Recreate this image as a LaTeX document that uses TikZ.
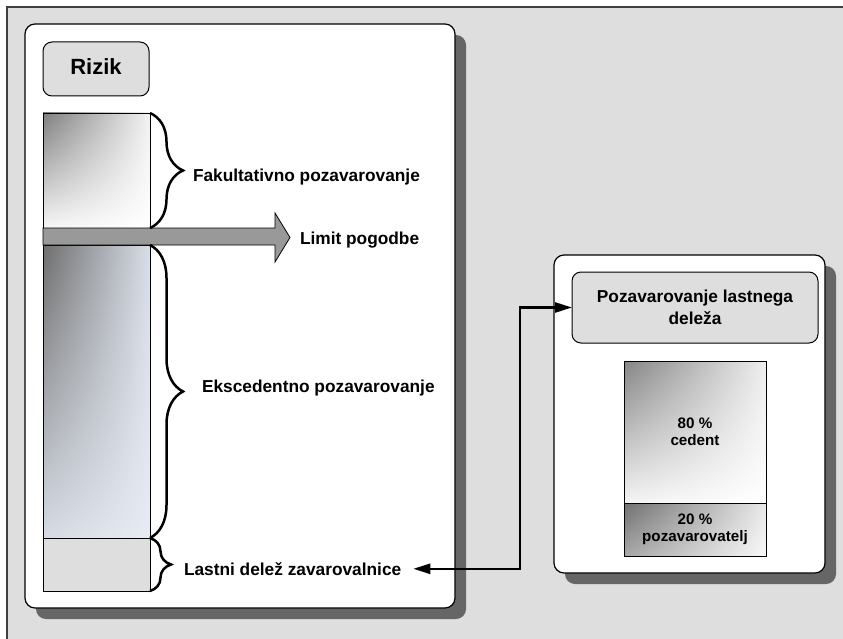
\documentclass[tikz,border=0pt]{standalone}
\usepackage{fontspec}
\setmainfont{Liberation Sans}
\usetikzlibrary{shadows,shadings,decorations.pathreplacing,arrows.meta}
\definecolor{bggray}{HTML}{DEDEDE}
\definecolor{shadowgray}{HTML}{666666}
\definecolor{blockgray}{HTML}{999999}
\definecolor{framegray}{HTML}{404040}
\definecolor{sAul}{HTML}{7F7F7F}
\definecolor{sAur}{HTML}{F2F2F2}
\definecolor{sAll}{HTML}{F6F6F6}
\definecolor{sBul}{HTML}{6E6E6E}
\definecolor{sBur}{HTML}{D8DEE8}
\definecolor{sBll}{HTML}{D6DBE4}
\definecolor{sBlr}{HTML}{E6EBF4}
\definecolor{sCul}{HTML}{858585}
\definecolor{sCur}{HTML}{EEEEEE}
\definecolor{sCll}{HTML}{F4F4F4}
\definecolor{sDul}{HTML}{707070}
\definecolor{sDur}{HTML}{E8E8E8}
\definecolor{sDll}{HTML}{A8A8A8}
\definecolor{sDlr}{HTML}{F8F8F8}
\newcommand{\lblfont}{\fontsize{17.3}{22}\selectfont\bfseries}
\newcommand{\smallfont}{\fontsize{15.2}{17.5}\selectfont\bfseries}
\newcommand{\bigfont}{\fontsize{22}{26}\selectfont\bfseries}
\begin{document}
\begin{tikzpicture}[x=1pt,y=-1pt,
 panel/.style={draw=black, line width=1.2pt, fill=white, rounded corners=10pt, inner sep=0pt, outer sep=0pt, anchor=north west,
   drop shadow={shadow xshift=11pt, shadow yshift=-11pt, fill=shadowgray, opacity=1}},
 titlebox/.style={draw=black, line width=1pt, fill=bggray, rounded corners=9pt, inner sep=0pt, outer sep=0pt, anchor=north west},
 segbox/.style={draw=black, line width=0.8pt, inner sep=0pt, outer sep=0pt, anchor=north west},
 lbl/.style={inner sep=0pt, outer sep=0pt, anchor=west, text height=12.4pt, text depth=0pt, font=\lblfont},
 bracestyle/.style={decorate, line width=2.5pt},
 conn/.style={line width=2.5pt, {Triangle[length=17pt,width=10pt]}-{Triangle[length=17pt,width=10pt]}},
 blockarrow/.style={fill=blockgray, draw=black, line width=0.8pt}]
\useasboundingbox (0,0) rectangle (843,639);
\fill[white] (0,0) rectangle (843,639);
% outer frame
\node[draw=framegray, line width=1.5pt, fill=bggray, anchor=north west, inner sep=0pt, outer sep=0pt,
      minimum width=880pt, minimum height=680pt] (frame) at (7,7) {};
% panels
\node[panel, minimum width=430pt, minimum height=584pt] (left) at (25,24) {};
\node[panel, minimum width=271pt, minimum height=318pt] (right) at (554,255) {};
% title boxes
\node[titlebox, minimum width=106pt, minimum height=54pt, font=\bigfont, text height=15.8pt, text depth=4pt] (rizik) at (43,42) {Rizik};
\node[titlebox, minimum width=246pt, minimum height=71pt, font=\lblfont, align=center] (hdr) at (572,272) {Pozavarovanje lastnega\\deleža};
% column segments
\node[segbox, minimum width=107pt, minimum height=115pt,
      upper left=sAul, upper right=sAur, lower left=sAll, lower right=white] (seg1) at (43,113) {};
\node[segbox, minimum width=107pt, minimum height=293pt,
      upper left=sBul, upper right=sBur, lower left=sBll, lower right=sBlr] (seg2) at (43,245) {};
\node[segbox, minimum width=107pt, minimum height=53pt, fill=bggray] (seg3) at (43,538) {};
% block arrow (limit)
\draw[blockarrow] (seg1.south west) -- (275,228) -- (275,213) -- (290,237.5) -- (275,262) -- (275,245) -- (seg2.north west) -- cycle;
% braces
\draw[bracestyle, decoration={brace, amplitude=33pt}] (seg1.north east) -- (seg1.south east);
\draw[bracestyle, decoration={brace, amplitude=33pt}] (seg2.north east) -- (seg2.south east);
\draw[bracestyle, decoration={brace, amplitude=21pt}] (seg3.north east) -- (seg3.south east);
% labels
\node[lbl] (fak) at (193,175.8) {Fakultativno pozavarovanje};
\node[lbl] (limit) at (300,237.8) {Limit pogodbe};
\node[lbl] (eks) at (202,385.8) {Ekscedentno pozavarovanje};
\node[lbl] (lastni) at (184,568.8) {Lastni delež zavarovalnice};
% right inner boxes
\node[segbox, minimum width=142pt, minimum height=142pt, font=\smallfont, align=center,
      upper left=sCul, upper right=sCur, lower left=sCll, lower right=white] (box80) at (624,361) {80 \%\\cedent};
\node[segbox, minimum width=142pt, minimum height=53pt, font=\smallfont, align=center,
      upper left=sDul, upper right=sDur, lower left=sDll, lower right=sDlr] (box20) at (624,503) {20 \%\\pozavarovatelj};
% connector
\draw[conn] (hdr.west) -- ++(-52,0) |- ([xshift=12pt]lastni.east);
\end{tikzpicture}
\end{document}
